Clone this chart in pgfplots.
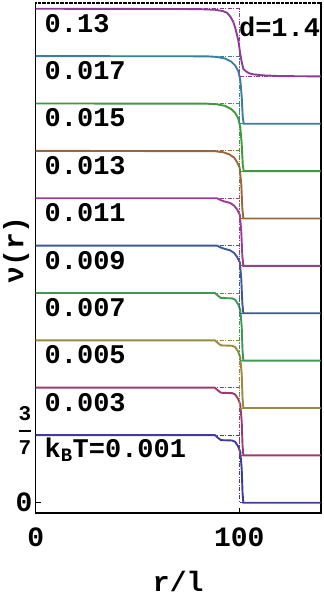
\documentclass[border=0pt]{standalone}
\usepackage{pgfplots}
\usepackage{pgfplotstable}
\pgfplotsset{compat=1.18}
\usepackage{fontspec}
\setmainfont{Liberation Mono}

\definecolor{cA}{rgb}{0.2472,0.24,0.6}
\definecolor{cB}{rgb}{0.6,0.24,0.4428}
\definecolor{cC}{rgb}{0.6,0.547,0.24}
\definecolor{cD}{rgb}{0.24,0.6,0.3308}
\definecolor{cE}{rgb}{0.24,0.3496,0.6}
\definecolor{cF}{rgb}{0.6,0.24,0.5867}
\definecolor{cG}{rgb}{0.6,0.4029,0.24}
\definecolor{cH}{rgb}{0.2458,0.6,0.24}
\definecolor{cI}{rgb}{0.24,0.4935,0.6}
\definecolor{cJ}{rgb}{0.5453,0.24,0.6}

\newcommand{\labfont}{\fontsize{27bp}{31bp}\selectfont\bfseries}
\newcommand{\ticfont}{\fontsize{28bp}{32bp}\selectfont\bfseries}

% nu(r) profiles (unshifted)
\pgfplotstableread{
x nu
0 0.4286
88 0.4286
89.5 0.4114
91 0.3965
96.5 0.3943
98 0.3857
99.5 0.3557
100.5 0.3214
101.2 0.2143
101.6 0.0643
102 0
140 0
}\tA
\pgfplotstableread{
x nu
0 0.4286
89 0.4286
91 0.4157
93 0.4072
95.5 0.3986
97.5 0.3814
99 0.3557
100.3 0.3214
101 0.2143
101.5 0.0643
102 0
140 0
}\tB
\pgfplotstableread{
x nu
0 0.4286
88 0.4265
92 0.4200
95 0.4072
97.5 0.3857
99 0.3557
100.2 0.3214
101 0.2143
101.5 0.0643
102 0
140 0
}\tC
\pgfplotstableread{
x nu
0 0.4286
84 0.4273
89 0.4235
93 0.4136
96 0.3943
98 0.3686
99.5 0.3343
100.5 0.2786
101.2 0.1714
101.7 0.0429
102.2 0
140 0
}\tD
\pgfplotstableread{
x nu
0 0.4286
80 0.4265
88 0.4222
92 0.4136
94 0.4029
95.7 0.3772
97 0.3472
98 0.3086
99 0.2572
99.6 0.2229
100.6 0.1329
101.3 0.0857
102 0.0471
103.5 0.0300
105 0.0193
107 0.0129
112 0.0064
120 0.0021
140 0
}\tE
\pgfplotstableread{
x nu
0 0.4286
100 0.4286
100 0
140 0
}\tStep

\newcommand{\curve}[3]{%
  \addplot[#2, line width=0.9bp, dash pattern=on 4bp off 1.5bp on 1bp off 1.5bp] table[x=x, y expr=\thisrow{nu}+#3] {\tStep};
  \addplot[#2, line width=1.9bp] table[x=x, y expr=\thisrow{nu}+#3] {#1};
}

\begin{document}
\begin{tikzpicture}[font=\bfseries]
\path[use as bounding box] (-35.7bp,-87bp) rectangle (288.3bp,513bp);
\begin{axis}[
  scale only axis, width=285bp, height=510bp,
  xmin=0, xmax=140, ymin=-0.065, ymax=3.165,
  xtick={0,100}, xticklabels={0,100},
  ytick={0,0.428571},
  yticklabels={0,{\smash{\raisebox{-2bp}{$\displaystyle{\mbox{\fontsize{21bp}{21bp}\selectfont\bfseries 3}\above 2bp\mbox{\fontsize{21bp}{21bp}\selectfont\bfseries 7}}$}}\hspace{6bp}}},
  tick align=inside, xtick pos=bottom, ytick pos=left,
  major tick length=5bp,
  every tick/.style={black, line width=1.2bp},
  axis line style={line width=1.6bp},
  xticklabel style={font=\ticfont, anchor=base, inner sep=0pt, yshift=-33.5bp},
  yticklabel style={font=\ticfont, anchor=east, inner sep=0pt, xshift=-3bp},
  xlabel={r/l}, ylabel={ν(r)},
  every axis x label/.style={at={(axis description cs:0.5,-0.135)}, anchor=center, font=\ticfont},
  every axis y label/.style={at={(axis description cs:-0.069,0.516)}, anchor=center, rotate=90, font=\ticfont},
]
\curve{\tA}{cA}{0}
\curve{\tA}{cB}{0.3}
\curve{\tA}{cC}{0.6}
\curve{\tA}{cD}{0.9}
\curve{\tB}{cE}{1.2}
\curve{\tB}{cF}{1.5}
\curve{\tC}{cG}{1.8}
\curve{\tD}{cH}{2.1}
\curve{\tD}{cI}{2.4}
\curve{\tE}{cJ}{2.7}

\node[anchor=base west, inner sep=0pt, font=\labfont] at (axis cs:4.3,0.284) {k\textsubscript{B}T=0.001};
\node[anchor=base west, inner sep=0pt, font=\labfont] at (axis cs:4.3,0.58) {0.003};
\node[anchor=base west, inner sep=0pt, font=\labfont] at (axis cs:4.3,0.88) {0.005};
\node[anchor=base west, inner sep=0pt, font=\labfont] at (axis cs:4.3,1.18) {0.007};
\node[anchor=base west, inner sep=0pt, font=\labfont] at (axis cs:4.3,1.48) {0.009};
\node[anchor=base west, inner sep=0pt, font=\labfont] at (axis cs:4.3,1.78) {0.011};
\node[anchor=base west, inner sep=0pt, font=\labfont] at (axis cs:4.3,2.08) {0.013};
\node[anchor=base west, inner sep=0pt, font=\labfont] at (axis cs:4.3,2.38) {0.015};
\node[anchor=base west, inner sep=0pt, font=\labfont] at (axis cs:4.3,2.68) {0.017};
\node[anchor=base west, inner sep=0pt, font=\labfont] at (axis cs:4.3,2.98) {0.13};
\node[anchor=base west, inner sep=0pt, font=\labfont] at (axis cs:99.8,2.955) {d=1.4};
\end{axis}
\draw[white, line width=2bp, dash pattern=on 1.2bp off 3.3bp] (1bp,510bp) -- (284bp,510bp);
\end{tikzpicture}
\end{document}
